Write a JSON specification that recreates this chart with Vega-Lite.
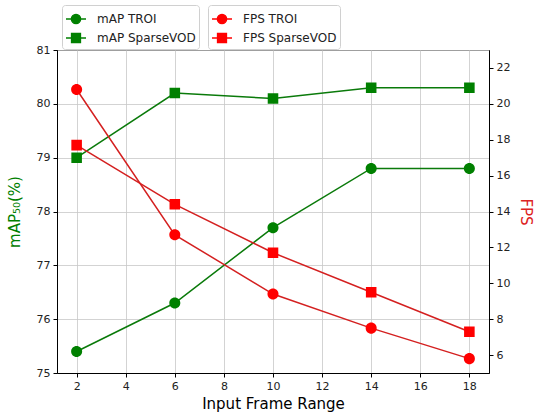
{
  "$schema": "https://vega.github.io/schema/vega-lite/v6.json",
  "width": 432,
  "height": 323,
  "autosize": "none",
  "padding": {"left": 57, "top": 50, "right": 51, "bottom": 40},
  "background": "white",
  "config": {
    "font": "DejaVu Sans",
    "view": {"stroke": "black", "strokeWidth": 1},
    "axis": {
      "labelFont": "DejaVu Sans", "labelFontSize": 11, "labelColor": "#222222",
      "tickColor": "black", "tickSize": 4, "domainColor": "black",
      "gridColor": "#c8c8c8", "gridWidth": 0.8,
      "titleFont": "DejaVu Sans", "titleFontSize": 15, "titleFontWeight": "normal",
      "labelPadding": 3
    },
    "legend": {
      "labelFont": "DejaVu Sans", "labelFontSize": 12, "labelColor": "#222222"
    }
  },
  "datasets": {
    "map": [
      {"frames": 2, "value": 75.4, "series": "mAP TROI"},
      {"frames": 6, "value": 76.3, "series": "mAP TROI"},
      {"frames": 10, "value": 77.7, "series": "mAP TROI"},
      {"frames": 14, "value": 78.8, "series": "mAP TROI"},
      {"frames": 18, "value": 78.8, "series": "mAP TROI"},
      {"frames": 2, "value": 79.0, "series": "mAP SparseVOD"},
      {"frames": 6, "value": 80.2, "series": "mAP SparseVOD"},
      {"frames": 10, "value": 80.1, "series": "mAP SparseVOD"},
      {"frames": 14, "value": 80.3, "series": "mAP SparseVOD"},
      {"frames": 18, "value": 80.3, "series": "mAP SparseVOD"}
    ],
    "fps": [
      {"frames": 2, "value": 20.8, "series": "FPS TROI"},
      {"frames": 6, "value": 12.7, "series": "FPS TROI"},
      {"frames": 10, "value": 9.4, "series": "FPS TROI"},
      {"frames": 14, "value": 7.5, "series": "FPS TROI"},
      {"frames": 18, "value": 5.8, "series": "FPS TROI"},
      {"frames": 2, "value": 17.7, "series": "FPS SparseVOD"},
      {"frames": 6, "value": 14.4, "series": "FPS SparseVOD"},
      {"frames": 10, "value": 11.7, "series": "FPS SparseVOD"},
      {"frames": 14, "value": 9.5, "series": "FPS SparseVOD"},
      {"frames": 18, "value": 7.3, "series": "FPS SparseVOD"}
    ]
  },
  "layer": [
    {
      "data": {"name": "map"},
      "encoding": {
        "x": {"field": "frames", "type": "quantitative",
              "scale": {"domain": [1.2, 18.8], "nice": false, "zero": false},
              "axis": {"values": [2, 4, 6, 8, 10, 12, 14, 16, 18], "title": "Input Frame Range", "titleColor": "black", "titlePadding": 5, "grid": true}},
        "y": {"field": "value", "type": "quantitative",
              "scale": {"domain": [75, 81], "nice": false, "zero": false},
              "axis": {"values": [75, 76, 77, 78, 79, 80, 81], "title": "mAP₅₀(%)", "titleColor": "green", "titlePadding": 14, "grid": true, "orient": "left"}}
      },
      "layer": [
        {"mark": {"type": "line", "color": "#0a7a0a", "strokeWidth": 1.5},
         "encoding": {"detail": {"field": "series"}}},
        {"mark": {"type": "point", "filled": true, "opacity": 1, "color": "green", "size": 576},
         "encoding": {
           "shape": {"field": "series", "type": "nominal",
             "scale": {"domain": ["mAP TROI", "mAP SparseVOD"],
                       "range": ["M-1,0L1,0M-0.46,0A0.46,0.46,0,1,0,0.46,0A0.46,0.46,0,1,0,-0.46,0Z",
                                 "M-1,0L1,0M-0.44,-0.44L0.44,-0.44L0.44,0.44L-0.44,0.44Z"]},
             "legend": {"orient": "none", "legendX": 5, "legendY": -45, "title": null,
                        "symbolFillColor": "green", "symbolStrokeColor": "green", "symbolStrokeWidth": 1.5,
                        "symbolSize": 400, "padding": 3, "strokeColor": "#d0d0d0", "fillColor": "white",
                        "cornerRadius": 3, "rowPadding": -1, "labelOffset": 10,
                        "encoding": {"symbols": {"stroke": {"value": "green"}, "strokeWidth": {"value": 1.5}, "fill": {"value": "green"}}}}}
         }}
      ]
    },
    {
      "data": {"name": "fps"},
      "encoding": {
        "x": {"field": "frames", "type": "quantitative"},
        "y": {"field": "value", "type": "quantitative",
              "scale": {"domain": [5, 23], "nice": false, "zero": false},
              "axis": {"values": [6, 8, 10, 12, 14, 16, 18, 20, 22], "title": "FPS", "titleColor": "#dd2222", "titlePadding": 8, "grid": false, "orient": "right"}}
      },
      "layer": [
        {"mark": {"type": "line", "color": "#d42020", "strokeWidth": 1.5},
         "encoding": {"detail": {"field": "series"}}},
        {"mark": {"type": "point", "filled": true, "opacity": 1, "color": "red", "size": 576},
         "encoding": {
           "shape": {"field": "series", "type": "nominal",
             "scale": {"domain": ["FPS TROI", "FPS SparseVOD"],
                       "range": ["M-1,0L1,0M-0.46,0A0.46,0.46,0,1,0,0.46,0A0.46,0.46,0,1,0,-0.46,0Z",
                                 "M-1,0L1,0M-0.44,-0.44L0.44,-0.44L0.44,0.44L-0.44,0.44Z"]},
             "legend": {"orient": "none", "legendX": 151, "legendY": -45, "title": null,
                        "symbolFillColor": "red", "symbolStrokeColor": "red", "symbolStrokeWidth": 1.5,
                        "symbolSize": 400, "padding": 3, "strokeColor": "#d0d0d0", "fillColor": "white",
                        "cornerRadius": 3, "rowPadding": -1, "labelOffset": 10,
                        "encoding": {"symbols": {"stroke": {"value": "red"}, "strokeWidth": {"value": 1.5}, "fill": {"value": "red"}}}}}
         }}
      ]
    }
  ],
  "resolve": {"scale": {"y": "independent", "shape": "independent"}}
}
